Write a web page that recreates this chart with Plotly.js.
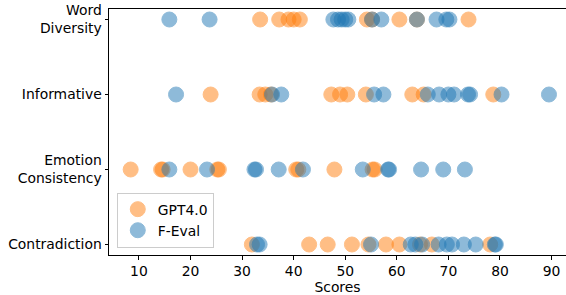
<!DOCTYPE html>
<html>
<head>
<meta charset="utf-8">
<script src="https://cdn.plot.ly/plotly-3.0.1.min.js"></script>
<style>html,body{margin:0;padding:0;background:#fff;}#chart{width:566px;height:295px;}</style>
</head>
<body>
<div id="chart"></div>
<script>
// Categories (bottom to top)
const categories = ["Contradiction", "Emotion<br>Consistency", "Informative", "Word<br>Diversity"];
const xTicks = [10, 20, 30, 40, 50, 60, 70, 80, 90];

// GPT4.0 scores per category
const gptContradiction = [31.9, 43.0, 46.6, 51.3, 54.5, 57.9, 60.5, 64.5, 66.8, 78.1];
const gptEmotion = [8.4, 14.3, 14.6, 20.0, 25.2, 25.5, 40.5, 40.9, 47.9, 55.3, 55.7];
const gptInformative = [23.9, 33.4, 34.5, 35.6, 47.3, 49.0, 50.4, 54.0, 63.0, 65.2, 78.7];
const gptWord = [33.5, 37.2, 39.0, 40.0, 41.2, 54.2, 55.2, 60.5, 63.9, 73.9];

// F-Eval scores per category
const fevalContradiction = [32.9, 33.4, 55.0, 62.7, 63.6, 64.9, 68.1, 69.7, 70.7, 73.0, 75.3, 79.0, 79.2];
const fevalEmotion = [15.9, 23.2, 32.4, 32.7, 37.1, 41.8, 53.4, 58.3, 58.5, 64.7, 69.0, 73.2];
const fevalInformative = [17.2, 35.8, 37.6, 55.6, 57.4, 66.0, 68.2, 70.0, 71.1, 73.8, 74.2, 80.3, 89.5];
const fevalWord = [15.9, 23.7, 47.7, 48.6, 49.3, 50.0, 50.6, 55.2, 57.0, 63.9, 67.7, 69.6, 70.2];

const gptSeries = [gptContradiction, gptEmotion, gptInformative, gptWord];
const fevalSeries = [fevalContradiction, fevalEmotion, fevalInformative, fevalWord];

function flatten(series) {
  const xs = [], ys = [];
  series.forEach((arr, i) => arr.forEach(v => { xs.push(v); ys.push(i); }));
  return {xs, ys};
}
const g = flatten(gptSeries), f = flatten(fevalSeries);

const font = {family: "DejaVu Sans, sans-serif", size: 13.9, color: "#000"};

const traces = [
  {type: "scatter", mode: "markers", name: "GPT4.0", x: g.xs, y: g.ys,
   marker: {color: "#ff7f0e", size: 15, opacity: 0.5, line: {color: "#ff7f0e", width: 1}}},
  {type: "scatter", mode: "markers", name: "F-Eval", x: f.xs, y: f.ys,
   marker: {color: "#1f77b4", size: 15, opacity: 0.5, line: {color: "#1f77b4", width: 1}}}
];

const layout = {
  width: 566, height: 295,
  margin: {l: 109, r: 0, t: 9, b: 40},
  paper_bgcolor: "#fff", plot_bgcolor: "#fff",
  font: font,
  showlegend: true,
  legend: {x: 0.017, y: 0.03, xanchor: "left", yanchor: "bottom",
           bgcolor: "rgba(255,255,255,0.8)", bordercolor: "#cccccc", borderwidth: 1,
           font: font, itemsizing: "trace", tracegroupgap: 0, itemwidth: 30},
  xaxis: {range: [4.2, 92.8], tickvals: xTicks, ticks: "outside", ticklen: 3.5, tickwidth: 1,
          tickcolor: "#000", showline: true, linecolor: "#000", linewidth: 1, mirror: true,
          showgrid: false, zeroline: false, automargin: false,
          title: {text: "Scores", font: font, standoff: 6}},
  yaxis: {range: [-0.14, 3.14], tickvals: [0, 1, 2, 3], ticktext: categories,
          ticks: "outside", ticklen: 3.5, tickwidth: 1, tickcolor: "#000",
          showline: true, linecolor: "#000", linewidth: 1,
          showgrid: false, zeroline: false, automargin: false}
};

Plotly.newPlot("chart", traces, layout, {displayModeBar: false, staticPlot: true});
</script>
</body>
</html>
